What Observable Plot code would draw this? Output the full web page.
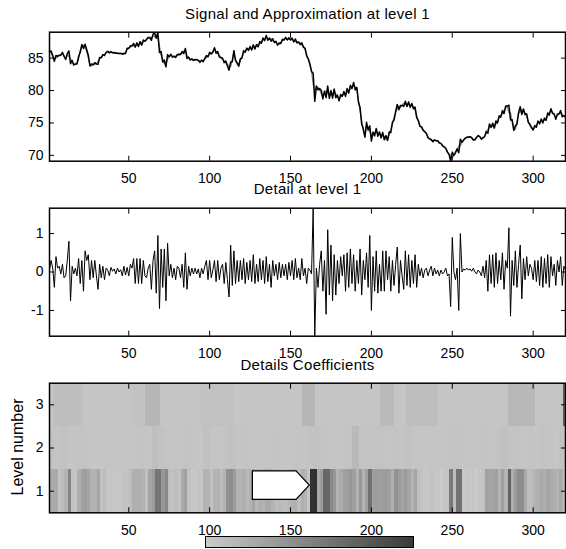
<!DOCTYPE html>
<html><head><meta charset="utf-8">
<script src="https://cdn.jsdelivr.net/npm/d3@7"></script>
<script src="https://cdn.jsdelivr.net/npm/@observablehq/plot@0.6"></script>
<style>
body{margin:0;background:#fff;}
#wrap{position:relative;width:566px;height:549px;font-family:"Liberation Sans",Arial,sans-serif;color:#000;overflow:hidden;}
.pl{position:absolute;left:0;}
.title{position:absolute;left:49px;width:517px;text-align:center;font-size:15px;line-height:15px;letter-spacing:0.3px;white-space:nowrap;}
#ylab{position:absolute;left:18px;top:447px;font-size:16px;line-height:16px;transform:translate(-50%,-50%) rotate(-90deg);white-space:nowrap;}
#cbar{position:absolute;left:205px;top:536px;width:207px;height:10px;border:1px solid #000;overflow:hidden;}
</style></head><body><div id="wrap"></div>
<script>
// ---- tick labels ----
const xTicks = [50, 100, 150, 200, 250, 300];
const signalTicks = [70, 75, 80, 85];
const detailTicks = [-1, 0, 1];
const levelTicks = [1, 2, 3];
const titles = ["Signal and Approximation at level 1", "Detail at level 1", "Details Coefficients"];
const levelLabel = "Level number";

// ---- signal (samples 1..320) ----
const signal = [
86.05,86.1,85.4,84.5,85.4,85.3,85.45,85.45,85.9,85.25,
84.8,85.7,86.1,84.15,84.65,83.95,84.1,84.1,85.25,85.9,
87.1,86.5,87.15,86.3,85.45,83.8,84.1,83.95,84.3,84.1,
84.05,85.1,85.05,85.55,85.4,85.9,86.05,85.8,86.02,85.82,
85.88,85.75,85.8,85.7,85.76,85.6,85.75,85.72,86.52,86.5,
86.9,86.9,87.25,86.7,87.35,86.8,87.55,87.0,87.8,87.6,
87.85,88.2,88.2,87.75,88.7,88.85,88.05,88.95,85.85,86.0,
84.4,84.7,83.65,85.55,85.2,85.6,85.15,85.3,85.1,85.55,
85.6,85.55,86.0,85.7,86.5,84.95,85.15,84.7,84.9,84.65,
84.8,84.75,84.68,84.35,84.7,84.45,84.95,85.4,85.2,85.9,
85.65,85.95,86.6,85.75,86.0,85.2,85.1,85.0,84.3,84.55,
83.8,83.15,84.4,84.45,86.15,84.6,84.3,83.75,84.9,85.0,
86.15,85.9,86.55,86.2,86.8,86.25,87.05,86.4,87.1,86.75,
87.55,87.3,88.1,87.7,88.5,87.75,88.1,87.6,88.0,87.4,
87.6,87.0,87.35,87.25,87.9,87.8,88.2,87.8,88.15,87.8,
88.1,87.5,87.95,87.35,87.5,87.1,87.35,86.7,86.5,85.3,
84.9,84.05,82.95,82.66,78.33,80.7,80.1,80.3,80.05,78.7,
79.9,78.9,80.7,78.8,80.0,78.85,80.25,78.9,79.3,78.4,
79.4,79.1,79.85,79.1,80.3,79.6,80.8,80.3,81.25,80.1,
80.5,78.2,77.4,74.8,74.1,72.8,75.1,73.9,74.55,72.2,
73.6,73.0,74.15,72.95,73.6,72.7,73.55,72.4,73.05,72.3,
73.6,73.5,75.1,75.45,76.8,77.85,77.05,77.7,77.7,77.55,
78.35,77.55,78.25,77.4,78.0,77.2,77.45,75.8,75.4,74.5,
74.4,73.85,73.65,73.4,72.7,72.55,72.45,72.1,72.4,72.25,
72.25,71.9,71.85,71.45,71.3,71.1,70.5,70.15,69.1,70.5,
70.0,70.4,71.0,70.4,72.5,72.0,72.38,72.65,72.8,72.85,
72.88,72.72,72.4,72.4,72.75,73.05,72.9,72.5,72.75,72.85,
73.7,73.4,74.85,74.3,74.95,74.2,75.3,75.0,76.1,75.9,
76.9,76.45,77.6,77.6,77.75,75.45,75.5,73.85,74.55,74.8,
76.6,77.5,76.3,77.15,76.3,76.4,75.1,74.8,74.3,73.9,
74.6,74.35,75.3,74.85,75.6,75.0,75.75,75.4,76.55,76.2,
77.2,76.5,76.4,75.55,76.4,76.4,76.9,75.95,76.15,75.95];

// ---- approximation at level 1 ----
const approximation = [
86.0,85.8,85.3,84.9,85.0,85.2,85.3,85.5,85.7,85.4,
84.9,85.4,85.3,84.9,84.5,84.0,84.0,84.2,84.9,86.2,
86.8,87.0,86.6,86.0,85.0,84.0,83.8,84.1,84.0,84.2,
84.5,84.9,85.2,85.4,85.6,85.8,86.0,85.9,85.9,85.8,
85.8,85.8,85.7,85.7,85.7,85.7,85.6,85.8,86.4,86.6,
86.7,86.8,86.9,87.0,87.0,87.1,87.2,87.3,87.5,87.7,
88.0,88.1,88.0,88.2,88.4,88.3,88.6,88.0,86.8,85.4,
84.8,84.1,84.4,84.8,85.3,85.4,85.3,85.2,85.3,85.4,
85.5,85.7,85.8,86.1,86.0,85.4,85.0,84.8,84.8,84.7,
84.7,84.8,84.6,84.5,84.6,84.5,84.8,85.1,85.4,85.6,
85.8,85.9,86.3,86.0,85.7,85.4,85.0,84.8,84.6,84.3,
84.0,83.8,83.7,84.8,85.6,84.9,84.0,84.0,84.6,85.2,
85.8,86.2,86.3,86.4,86.5,86.5,86.6,86.7,86.9,87.0,
87.2,87.5,87.8,88.0,88.1,88.0,87.9,88.0,87.7,87.5,
87.4,87.2,87.1,87.4,87.7,87.9,88.0,88.0,87.9,87.9,
87.8,87.7,87.6,87.5,87.4,87.3,87.0,86.8,86.4,85.6,
84.8,84.0,83.0,81.0,80.0,80.6,80.5,80.1,79.5,79.2,
79.6,80.0,79.6,79.4,79.3,79.6,79.8,79.5,79.0,78.7,
79.0,79.2,79.4,79.6,79.8,80.0,80.2,80.6,80.8,80.6,
80.2,78.5,76.8,75.4,73.8,73.0,74.6,74.3,73.6,73.2,
73.2,73.5,73.6,73.5,73.4,73.2,73.0,72.9,72.5,72.5,
73.2,74.0,74.8,75.8,76.6,77.2,77.6,77.4,77.8,78.0,
77.8,77.9,77.8,77.8,77.7,77.5,77.0,76.2,75.2,74.6,
74.3,74.0,73.6,73.3,72.8,72.5,72.3,72.2,72.3,72.3,
72.2,72.0,71.8,71.5,71.3,71.0,70.6,70.2,70.0,69.6,
70.0,70.6,70.9,71.4,71.5,72.0,72.3,72.6,72.7,72.8,
72.8,72.7,72.3,72.4,72.8,73.0,72.9,72.6,72.6,73.0,
73.4,73.9,74.4,74.6,74.5,74.6,74.8,75.3,75.8,76.1,
76.4,76.9,77.3,77.5,76.6,76.6,75.2,74.2,74.0,75.2,
76.4,76.8,77.0,76.8,76.5,76.0,75.2,74.6,74.2,74.1,
74.3,74.6,75.0,75.2,75.2,75.4,75.4,75.7,76.1,76.6,
76.8,76.6,76.2,75.9,76.1,76.4,76.5,76.3,76.0,75.9];

// ---- detail at level 1 ----
const detail = [
0.05,0.3,0.1,-0.4,0.4,0.1,0.15,-0.05,0.2,-0.15,
-0.1,0.3,0.8,-0.75,0.15,-0.05,0.1,-0.1,0.35,-0.3,
0.3,-0.5,0.55,0.3,0.45,-0.2,0.3,-0.15,0.3,-0.1,
-0.45,0.2,-0.15,0.15,-0.2,0.1,0.05,-0.1,0.12,0.02,
0.08,-0.05,0.1,0.0,0.06,-0.1,0.15,-0.08,0.12,-0.1,
0.2,0.1,0.35,-0.3,0.35,-0.3,0.35,-0.3,0.3,-0.1,
-0.15,0.1,0.2,-0.45,0.3,0.55,-0.55,0.95,-0.95,0.6,
-0.4,0.6,-0.75,0.75,-0.1,0.2,-0.15,0.1,-0.2,0.15,
0.1,-0.15,0.2,-0.4,0.5,-0.45,0.15,-0.1,0.1,-0.05,
0.1,-0.05,0.08,-0.15,0.1,-0.05,0.15,0.3,-0.2,0.3,
-0.15,0.05,0.3,-0.25,0.3,-0.2,0.1,0.2,-0.3,0.25,
-0.2,-0.65,0.7,-0.35,0.55,-0.3,0.3,-0.25,0.3,-0.2,
0.35,-0.3,0.25,-0.2,0.3,-0.25,0.45,-0.3,0.2,-0.25,
0.35,-0.2,0.3,-0.3,0.4,-0.25,0.2,-0.4,0.3,-0.1,
0.2,-0.2,0.25,-0.15,0.2,-0.1,0.2,-0.2,0.25,-0.1,
0.3,-0.2,0.35,-0.15,0.1,-0.2,0.35,-0.1,0.1,-0.3,
0.1,0.05,-0.05,1.66,-1.67,0.1,-0.4,0.2,0.55,-0.5,
0.3,-1.1,1.1,-0.6,0.7,-0.75,0.45,-0.6,0.3,-0.3,
0.4,-0.1,0.45,-0.5,0.5,-0.4,0.6,-0.3,0.45,-0.5,
0.3,-0.3,0.6,-0.6,0.3,-0.2,0.5,-0.4,0.95,-1.0,
0.4,-0.5,0.55,-0.55,0.2,-0.5,0.55,-0.5,0.55,-0.2,
0.4,-0.5,0.3,-0.35,0.2,0.65,-0.55,0.3,-0.1,-0.45,
0.55,-0.35,0.45,-0.4,0.3,-0.3,0.45,-0.4,0.2,-0.1,
0.1,-0.15,0.05,0.1,-0.1,0.05,0.15,-0.1,0.1,-0.05,
0.05,-0.1,0.05,-0.05,0.0,0.1,-0.1,-0.05,-0.9,0.9,
0.0,-0.2,0.1,-1.0,1.0,0.0,0.08,0.05,0.1,0.05,
0.08,0.02,0.1,0.0,-0.05,0.05,0.0,-0.1,0.15,-0.15,
0.3,-0.5,0.45,-0.3,0.45,-0.4,0.5,-0.3,0.3,-0.2,
0.5,-0.45,0.3,0.1,1.15,-1.15,0.3,-0.35,0.55,-0.4,
0.2,0.7,-0.7,0.35,-0.2,0.4,-0.1,0.2,0.1,-0.2,
0.3,-0.25,0.3,-0.35,0.4,-0.4,0.35,-0.3,0.45,-0.4,
0.4,-0.1,0.2,-0.35,0.3,0.0,0.4,-0.35,0.15,0.05];

// ---- coefficient magnitudes for levels 2 and 3 ----
// level 2: 80 coefficients, each covering 4 samples
const level2Coefs = [
0.14,0.13,0.15,0.12,0.13,0.14,0.12,0.11,0.12,0.12,
0.11,0.11,0.12,0.12,0.13,0.12,0.18,0.15,0.13,0.12,
0.12,0.14,0.12,0.11,0.16,0.13,0.12,0.14,0.16,0.12,
0.13,0.12,0.12,0.13,0.12,0.13,0.12,0.12,0.13,0.12,
0.14,0.15,0.13,0.12,0.12,0.12,0.13,0.24,0.13,0.14,
0.13,0.14,0.12,0.13,0.12,0.15,0.13,0.12,0.12,0.13,
0.12,0.12,0.14,0.13,0.12,0.12,0.12,0.13,0.12,0.14,
0.16,0.13,0.14,0.12,0.13,0.12,0.14,0.13,0.12,0.15];
// level 3: runs of [first sample, last sample, magnitude]
const level3Runs = [
[1,3,0.12],[4,21,0.19],[22,52,0.12],[53,60,0.15],[61,69,0.27],[70,94,0.12],
[95,114,0.16],[115,157,0.12],[158,165,0.27],[166,205,0.12],[206,214,0.22],
[215,221,0.12],[222,241,0.2],[242,284,0.12],[285,301,0.25],[302,318,0.12],[319,320,1.2]];

// pointer annotation (data units: sample, level)
const pointerX = [126.4, 153.4, 161.6, 153.4, 126.4, 126.4];
const pointerY = [1.47, 1.47, 1.14, 0.81, 0.81, 1.47];

const N = signal.length;
const xDomain = [1, N];
const font = "'Liberation Sans', Arial, sans-serif";
const colorScale = {type: "linear", domain: [0, 1.7], range: ["#d0d0d0", "#2e2e2e"]};

function frameMarks(yTicks) {
  const fmt = d => String(d);
  return [
    Plot.axisX(xTicks, {anchor: "bottom", tickSize: -5, tickFormat: () => "", label: null, strokeWidth: 1}),
    Plot.axisX(xTicks, {anchor: "top", tickSize: -5, tickFormat: () => "", label: null, strokeWidth: 1}),
    Plot.axisX(xTicks, {anchor: "bottom", tickSize: 0, tickPadding: 12, tickFormat: fmt, label: null}),
    Plot.axisY(yTicks, {anchor: "left", tickSize: -5, tickFormat: () => "", label: null, strokeWidth: 1}),
    Plot.axisY(yTicks, {anchor: "right", tickSize: -5, tickFormat: () => "", label: null, strokeWidth: 1}),
    Plot.axisY(yTicks, {anchor: "left", tickSize: 0, tickPadding: 6, tickFormat: fmt, label: null}),
    Plot.frame({stroke: "black", strokeWidth: 1.5})
  ];
}
const style = {fontFamily: font, fontSize: "14px", color: "black", background: "transparent", overflow: "visible"};

const wrap = document.getElementById("wrap");
function place(el, top) { el.classList.add("pl"); el.style.top = top + "px"; wrap.appendChild(el); }

// Panel 1
const p1 = Plot.plot({
  width: 566, height: 185, marginTop: 31.7, marginBottom: 24.3, marginLeft: 49, marginRight: 1,
  style,
  x: {domain: xDomain, axis: null},
  y: {domain: [69.1, 89.0], axis: null},
  marks: [
    Plot.line(approximation, {x: (d, i) => i + 1, y: d => d, stroke: "#8a8a8a", strokeWidth: 1.3}),
    Plot.line(signal, {x: (d, i) => i + 1, y: d => d, stroke: "black", strokeWidth: 1.5}),
    ...frameMarks(signalTicks)
  ]
});
place(p1, 0);

// Panel 2
const p2 = Plot.plot({
  width: 566, height: 170, marginTop: 17.7, marginBottom: 24.3, marginLeft: 49, marginRight: 1,
  style,
  x: {domain: xDomain, axis: null},
  y: {domain: [-1.67, 1.66], axis: null},
  marks: [
    Plot.line(detail, {x: (d, i) => i + 1, y: d => d, stroke: "black", strokeWidth: 1}),
    ...frameMarks(detailTicks)
  ]
});
place(p2, 190);

// Panel 3 cells: level-1 coefficients cover pairs of samples
const cells = [];
for (let k = 0; k < N / 2; k++) {
  const v = Math.max(Math.abs(detail[2 * k]), Math.abs(detail[2 * k + 1]));
  cells.push({x1: 2 * k + 0.5, x2: 2 * k + 2.5, level: 1, v});
}
level2Coefs.forEach((v, k) => cells.push({x1: 4 * k + 0.5, x2: 4 * k + 4.5, level: 2, v}));
level3Runs.forEach(([a, b, v]) => cells.push({x1: a - 0.5, x2: b + 0.5, level: 3, v}));
const pointer = pointerX.map((x, i) => ({x, y: pointerY[i]}));

const p3 = Plot.plot({
  width: 566, height: 172, marginTop: 17.7, marginBottom: 24.7, marginLeft: 49, marginRight: 1,
  style,
  x: {domain: xDomain, axis: null},
  y: {domain: [0.5, 3.5], axis: null},
  color: colorScale,
  marks: [
    Plot.rect(cells, {x1: "x1", x2: "x2", y1: d => d.level - 0.5, y2: d => d.level + 0.5, fill: "v", clip: true, shapeRendering: "crispEdges"}),
    Plot.line(pointer, {x: "x", y: "y", stroke: "black", strokeWidth: 1.3, fill: "white"}),
    ...frameMarks(levelTicks)
  ]
});
place(p3, 365);

// titles
[[titles[0], 6], [titles[1], 181], [titles[2], 357]].forEach(([t, top]) => {
  const d = document.createElement("div"); d.className = "title"; d.style.top = top + "px"; d.textContent = t; wrap.appendChild(d);
});
const yl = document.createElement("div"); yl.id = "ylab"; yl.textContent = levelLabel; wrap.appendChild(yl);

// colorbar
const cb = document.createElement("div"); cb.id = "cbar";
const leg = Plot.legend({color: {...colorScale, range: ["#cbcbcb", "#3a3a3a"]}, width: 207, height: 10, marginTop: 0, marginBottom: 0, marginLeft: 0, marginRight: 0, ticks: 0, tickSize: 0, label: null, style: {display: "block"}});
cb.appendChild(leg);
wrap.appendChild(cb);
</script></body></html>
